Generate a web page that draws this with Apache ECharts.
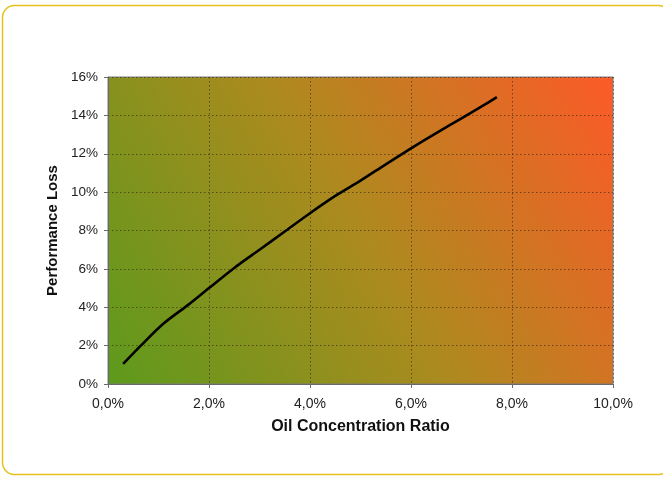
<!DOCTYPE html>
<html>
<head>
<meta charset="utf-8">
<script src="https://cdn.jsdelivr.net/npm/echarts@6/dist/echarts.min.js"></script>
<style>
html,body{margin:0;padding:0;background:#fff;}
#c{width:663px;height:477px;}
</style>
</head>
<body>
<div id="c"></div>
<script>
const oilRatio = [0.3, 0.65, 1.1, 1.6, 2.0, 2.5, 3.0, 3.5, 4.0, 4.5, 5.0, 5.5, 6.0, 6.5, 7.0, 7.5, 7.7];
const perfLoss = [1.05, 2.0, 3.15, 4.15, 5.0, 6.05, 7.0, 7.95, 8.9, 9.8, 10.6, 11.45, 12.28, 13.08, 13.85, 14.62, 14.95];
const xTitle = 'Oil Concentration Ratio';
const yTitle = 'Performance Loss';

const chart = echarts.init(document.getElementById('c'));
const font = '"Liberation Sans", Arial, sans-serif';
chart.setOption({
  animation: false,
  graphic: [{
    type: 'rect',
    shape: {x: 2.5, y: 5.5, width: 668, height: 469, r: 12},
    style: {fill: 'none', stroke: '#e6c21e', lineWidth: 1.5},
    z: -10
  }],
  grid: {
    left: 108, right: 50, top: 77, bottom: 93,
    show: true,
    borderColor: '#7a7a7a',
    borderWidth: 1,
    backgroundColor: {
      type: 'linear', x: 0, y: 1, x2: 1, y2: 0,
      colorStops: [
        {offset: 0, color: '#5c9a1c'},
        {offset: 0.5, color: '#ad8a1f'},
        {offset: 1, color: '#fd5a28'}
      ]
    }
  },
  xAxis: {
    type: 'value', min: 0, max: 10, interval: 2,
    name: xTitle, nameLocation: 'middle', nameGap: 35,
    nameTextStyle: {fontFamily: font, fontSize: 16, fontWeight: 'bold', color: '#111'},
    axisLine: {show: true, lineStyle: {color: '#6a6a6a'}},
    axisTick: {show: true, length: 4, lineStyle: {color: '#6a6a6a'}},
    axisLabel: {fontFamily: font, fontSize: 14, color: '#222', margin: 13,
      formatter: v => v.toFixed(1).replace('.', ',') + '%'},
    splitLine: {show: true, lineStyle: {color: 'rgba(60,40,20,0.65)', type: [1.5, 2.5], width: 1}}
  },
  yAxis: {
    type: 'value', min: 0, max: 16, interval: 2,
    name: yTitle, nameLocation: 'middle', nameGap: 43,
    nameTextStyle: {fontFamily: font, fontSize: 15, fontWeight: 'bold', color: '#111'},
    axisLine: {show: true, lineStyle: {color: '#6a6a6a'}},
    axisTick: {show: true, length: 4, lineStyle: {color: '#6a6a6a'}},
    axisLabel: {fontFamily: font, fontSize: 13.5, color: '#222', margin: 10,
      formatter: v => v + '%'},
    splitLine: {show: true, lineStyle: {color: 'rgba(60,40,20,0.65)', type: [1.5, 2.5], width: 1}}
  },
  series: [{
    type: 'line',
    data: oilRatio.map((x, i) => [x, perfLoss[i]]),
    smooth: 0.3,
    showSymbol: false,
    lineStyle: {color: '#000', width: 2.6}
  }]
});
</script>
</body>
</html>
